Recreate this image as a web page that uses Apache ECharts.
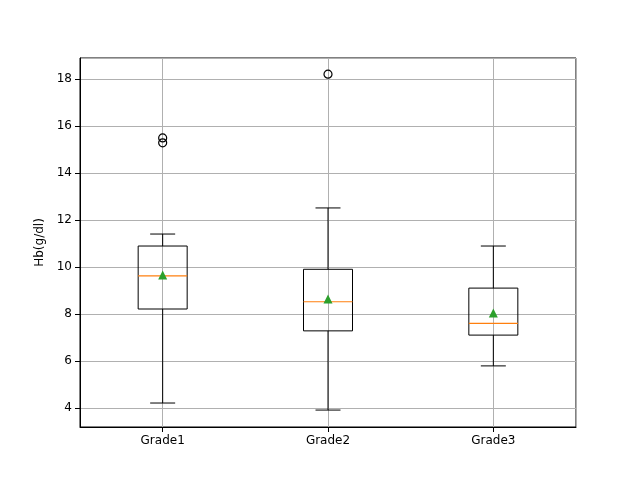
<!DOCTYPE html>
<html><head><meta charset="utf-8">
<script src="https://cdn.jsdelivr.net/npm/echarts@6/dist/echarts.min.js"></script>
<style>html,body{margin:0;padding:0;background:#fff}#c{width:640px;height:480px}</style>
</head><body><div id="c"></div>
<script>
const categories = ['Grade1', 'Grade2', 'Grade3'];
// [low whisker, Q1, median, Q3, high whisker]
const boxStats = [
  [4.21, 8.21, 9.62, 10.89, 11.40],
  [3.91, 7.28, 8.52, 9.90, 12.51],
  [5.79, 7.10, 7.60, 9.10, 10.89]
];
const means = [9.66, 8.64, 8.04];
const outliers = [[1, 15.49], [1, 15.28], [2, 18.20]];

const chart = echarts.init(document.getElementById('c'));
const boxData = boxStats.map((s, i) => [i + 1].concat(s));
const font = 'DejaVu Sans';

chart.setOption({
  animation: false,
  textStyle: {fontFamily: font},
  grid: {left: 80, right: 64, top: 58, bottom: 53, show: true, borderColor: '#000', borderWidth: 1},
  xAxis: {
    type: 'value', min: 0.5, max: 3.5, splitNumber: 3,
    axisLine: {onZero: false, lineStyle: {color: '#000'}},
    axisTick: {lineStyle: {color: '#000'}},
    axisLabel: {color: '#000', fontSize: 12, fontFamily: font, showMinLabel: false, showMaxLabel: false,
      formatter: v => categories[v - 1] || ''},
    splitLine: {show: true, lineStyle: {color: '#b0b0b0'}}
  },
  yAxis: {
    type: 'value', min: 3.19, max: 18.89, splitNumber: 8,
    name: 'Hb(g/dl)', nameLocation: 'middle', nameGap: 34,
    nameTextStyle: {color: '#000', fontSize: 12, fontFamily: font},
    axisLine: {show: true, lineStyle: {color: '#000'}},
    axisTick: {show: true, lineStyle: {color: '#000'}},
    axisLabel: {color: '#000', fontSize: 12, fontFamily: font, showMinLabel: false, showMaxLabel: false},
    splitLine: {show: true, lineStyle: {color: '#b0b0b0'}}
  },
  series: [
    {
      type: 'custom',
      data: boxData,
      renderItem: (params, api) => {
        const x = api.value(0);
        const p = [1, 2, 3, 4, 5].map(k => api.coord([x, api.value(k)]));
        const cx = p[0][0], hw = 24.5, cw = 12.5;
        const st = {stroke: '#000', lineWidth: 1, fill: null};
        return {type: 'group', children: [
          {type: 'line', shape: {x1: cx, y1: p[0][1], x2: cx, y2: p[1][1]}, style: st},
          {type: 'line', shape: {x1: cx, y1: p[3][1], x2: cx, y2: p[4][1]}, style: st},
          {type: 'line', shape: {x1: cx - cw, y1: p[0][1], x2: cx + cw, y2: p[0][1]}, style: st},
          {type: 'line', shape: {x1: cx - cw, y1: p[4][1], x2: cx + cw, y2: p[4][1]}, style: st},
          {type: 'rect', shape: {x: cx - hw, y: p[3][1], width: 2 * hw, height: p[1][1] - p[3][1]}, style: {stroke: '#000', lineWidth: 1, fill: 'rgba(0,0,0,0)'}},
          {type: 'line', shape: {x1: cx - hw, y1: p[2][1], x2: cx + hw, y2: p[2][1]}, style: {stroke: '#ff7f0e', lineWidth: 1.2}}
        ]};
      }
    },
    {
      type: 'scatter', data: outliers, symbol: 'circle', symbolSize: 8,
      itemStyle: {color: 'rgba(0,0,0,0)', borderColor: '#000', borderWidth: 1.2, opacity: 1}
    },
    {
      type: 'scatter', data: means.map((m, i) => [i + 1, m]), symbol: 'triangle', symbolSize: 9,
      itemStyle: {color: '#2ca02c', opacity: 1}
    }
  ]
});
</script></body></html>
